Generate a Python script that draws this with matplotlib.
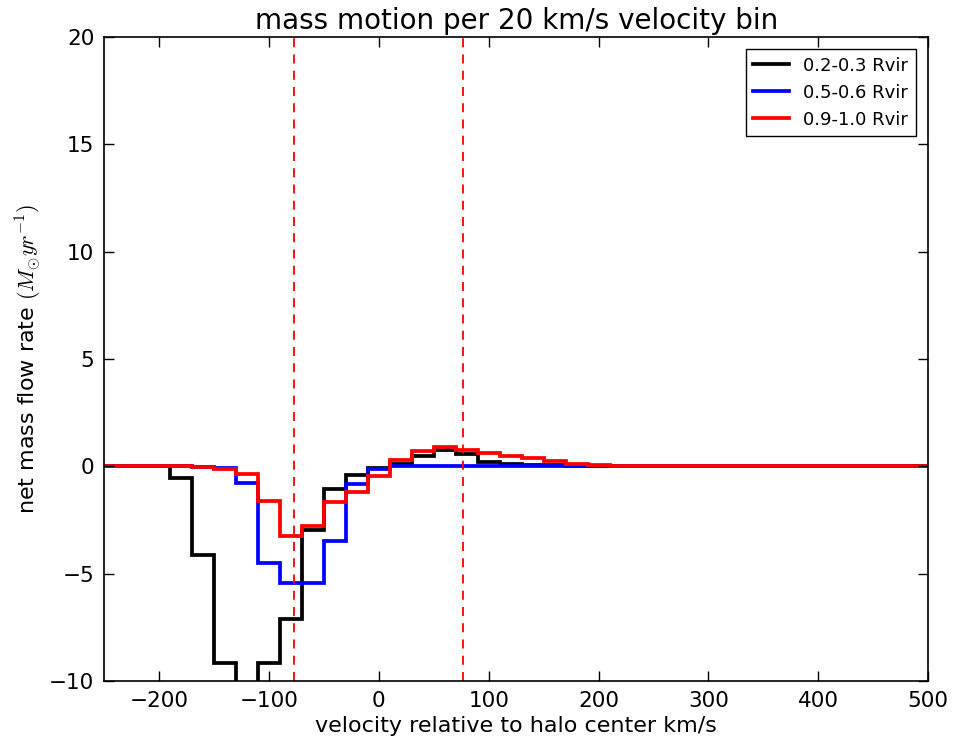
import matplotlib
matplotlib.use("Agg")
import matplotlib.pyplot as plt
import numpy as np

plt.rcParams['mathtext.fontset'] = 'cm'

# 20 km/s velocity bins (left edges from -250 up to 490)
bin_edges = np.arange(-250, 511, 20)

# net mass flow rate per bin (Msun/yr)
flow_inner = [0, 0, 0, -0.55, -4.14, -9.15, -14.0, -9.15, -7.13, -2.98,
              -1.08, -0.42, -0.1, 0.1, 0.49, 0.76, 0.59, 0.2, 0.12, 0.08,
              0.05, 0.03, 0.02, 0.01, 0.01, 0.01, 0.01, 0.01, 0.01, 0.01,
              0.01, 0.01, 0.01, 0.01, 0.01, 0.01, 0.01, 0.01]
flow_mid = [0, 0, 0, 0, -0.05, -0.1, -0.8, -4.5, -5.43, -5.43,
            -3.49, -0.83, -0.15, 0, 0, 0, 0, 0, 0, 0,
            0, 0, 0, 0, 0, 0, 0, 0, 0, 0,
            0, 0, 0, 0, 0, 0, 0, 0]
flow_outer = [0, 0, 0, 0, -0.02, -0.12, -0.37, -1.63, -3.26, -2.78,
              -1.68, -1.2, -0.45, 0.28, 0.70, 0.9, 0.75, 0.64, 0.48, 0.39,
              0.25, 0.1, 0.05, 0.03, 0.01, 0.01, 0.01, 0.01, 0.01, 0.01,
              0.01, 0.01, 0.01, 0.01, 0.01, 0.01, 0.01, 0.01]
labels = ['0.2-0.3 Rvir', '0.5-0.6 Rvir', '0.9-1.0 Rvir']
colors = ['black', 'blue', 'red']

# escape velocity markers
v_esc = [-77, 77]

fig = plt.figure(figsize=(9.55, 7.37), dpi=100)
ax = fig.add_axes([0.109, 0.076, 0.863, 0.874])

for vals, lab, col in zip([flow_inner, flow_mid, flow_outer], labels, colors):
    ax.stairs(vals, bin_edges, baseline=None, color=col, lw=2.7, label=lab)

for v in v_esc:
    ax.axvline(v, color='red', ls='--', lw=1.3, dashes=(5, 4))

ax.set_xlim(-250, 500)
ax.set_ylim(-10, 20)
ax.set_xticks(np.arange(-200, 501, 100))
ax.set_yticks(np.arange(-10, 21, 5))
ax.tick_params(direction='in', top=True, right=True, length=7, width=1,
               labelsize=15.5, pad=7)
for s in ax.spines.values():
    s.set_linewidth(1.2)

ax.set_title('mass motion per 20 km/s velocity bin', fontsize=20)
ax.set_xlabel('velocity relative to halo center km/s', fontsize=16)
ax.set_ylabel(r'net mass flow rate $(M_{\odot} yr^{-1})$', fontsize=16)

leg = ax.legend(loc='upper right', fontsize=13, fancybox=False,
                framealpha=1, edgecolor='black', handlelength=2.0,
                borderaxespad=0.7)
leg.get_frame().set_linewidth(1.0)

fig.savefig('out.png', dpi=100)
